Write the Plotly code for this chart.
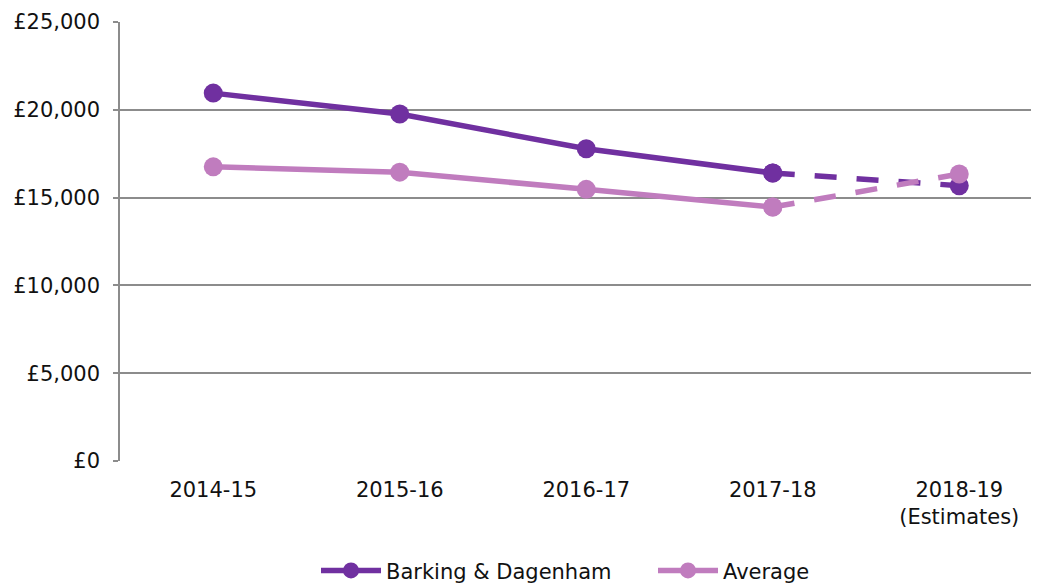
import plotly.graph_objects as go

categories = ["2014-15", "2015-16", "2016-17", "2017-18", "2018-19<br>(Estimates)"]
barking = [20950, 19760, 17780, 16400, 15680]
average = [16750, 16450, 15470, 14460, 16340]
y_ticks = [0, 5000, 10000, 15000, 20000, 25000]
y_tick_labels = ["\u00a3" + f"{v:,}" for v in y_ticks]

DARK = "#7030A0"
LIGHT = "#C07CBE"
FONT = "DejaVu Sans"
FS = 21

fig = go.Figure()

def add_series(name, vals, color):
    fig.add_trace(go.Scatter(
        x=categories[:4], y=vals[:4], name=name, mode="lines+markers",
        line=dict(color=color, width=5.5),
        marker=dict(color=color, size=19),
        showlegend=True,
    ))
    fig.add_trace(go.Scatter(
        x=categories[3:5], y=vals[3:5], name=name, mode="lines+markers",
        line=dict(color=color, width=5.5, dash="22px,20px"),
        marker=dict(color=color, size=19),
        showlegend=False,
    ))

add_series("Barking & Dagenham", barking, DARK)
add_series("Average", average, LIGHT)

fig.update_layout(
    width=1031, height=577,
    margin=dict(l=112, r=0, t=14, b=124, autoexpand=False),
    paper_bgcolor="white", plot_bgcolor="white",
    font=dict(family=FONT, size=FS, color="#111111"),
    showlegend=True,
    legend=dict(orientation="h", x=(316 - 120) / 919, xanchor="left", y=-0.25, yanchor="middle",
                font=dict(size=FS), itemwidth=60, entrywidth=262, bgcolor="rgba(0,0,0,0)"),
    xaxis=dict(type="category", range=[-0.5, -0.5 + 919 / 186.5],
               showgrid=False, showline=False, ticks="", zeroline=False, automargin=False,
               tickfont=dict(size=FS), ticklabelstandoff=14),
    yaxis=dict(range=[0, 25000], tickvals=y_ticks, ticktext=y_tick_labels,
               showgrid=True, gridcolor="#8c8c8c", gridwidth=1.5, automargin=False,
               showline=True, linecolor="#8c8c8c", linewidth=1.5,
               ticks="outside", ticklen=5, tickcolor="#8c8c8c", tickwidth=1.5,
               zeroline=False, tickfont=dict(size=FS), ticklabelstandoff=9),
)

fig.write_html("out.html", config={"displayModeBar": False})
